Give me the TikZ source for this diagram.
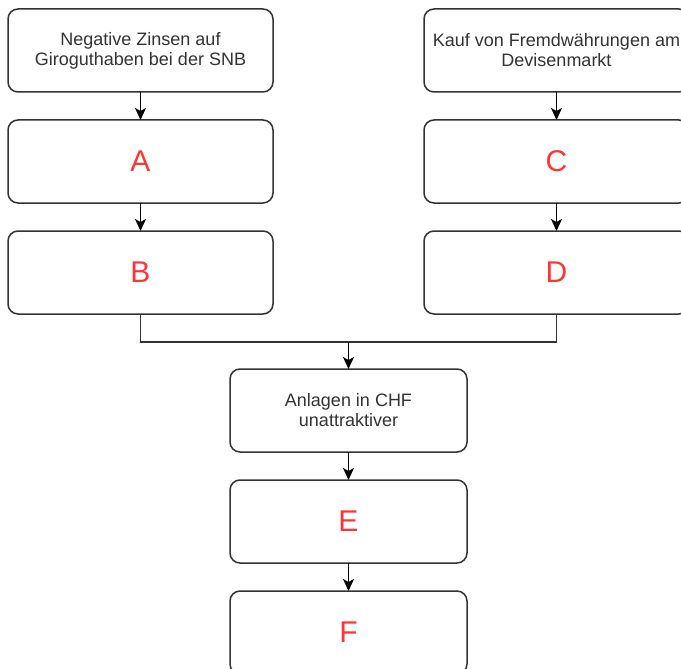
\documentclass[tikz,border=0pt]{standalone}
\usepackage{fontspec}
\setmainfont{Liberation Sans}
\usetikzlibrary{arrows.meta,positioning}
\definecolor{boxline}{HTML}{333333}
\definecolor{labelred}{HTML}{FF3535}
\tikzset{
    stepbox/.style={
        rectangle, rounded corners=10pt, draw=boxline, line width=1.5pt,
        fill=white, minimum width=265pt, minimum height=83pt,
        inner sep=0pt, outer sep=0pt,
        align=center, text=boxline, font=\fontsize{18}{20}\selectfont
    },
    midbox/.style={stepbox, minimum width=237pt},
    letter/.style={text=labelred, font=\fontsize{30}{32}\selectfont},
    arrow/.style={-{Stealth[length=12pt,width=11pt,inset=3pt]}, line width=1.6pt, draw=black},
    joinline/.style={line width=1.6pt, draw=boxline}
}
\begin{document}
\begin{tikzpicture}[x=1pt, y=-1pt, node distance=28pt]

\useasboundingbox[fill=white] (0,0) rectangle (681,669);
\clip (0,0) rectangle (681,669);

%% left column
\node[stepbox] (zinsen) at (140.5,50.5) {Negative Zinsen auf\\Giroguthaben bei der SNB};
\node[stepbox, letter, below=of zinsen] (a) {A};
\node[stepbox, letter, below=of a] (b) {B};

%% right column
\node[stepbox] (kauf) at (556.5,50.5) {Kauf von Fremdwährungen am\\Devisenmarkt};
\node[stepbox, letter, below=of kauf] (c) {C};
\node[stepbox, letter, below=of c] (d) {D};

%% middle column
\node[midbox] (anlagen) at (348.5,410.5) {Anlagen in CHF\\unattraktiver};
\node[midbox, letter, below=of anlagen] (e) {E};
\node[midbox, letter, below=of e] (f) {F};

%% arrows
\draw[arrow] (zinsen) -- (a);
\draw[arrow] (a) -- (b);
\draw[arrow] (kauf) -- (c);
\draw[arrow] (c) -- (d);

%% B and D merge into one line
\coordinate (join) at (348.5,342);
\draw[joinline] (b.south) |- (join) -| (d.south);
\draw[arrow] (join) -- (anlagen);

\draw[arrow] (anlagen) -- (e);
\draw[arrow] (e) -- (f);

\end{tikzpicture}
\end{document}
